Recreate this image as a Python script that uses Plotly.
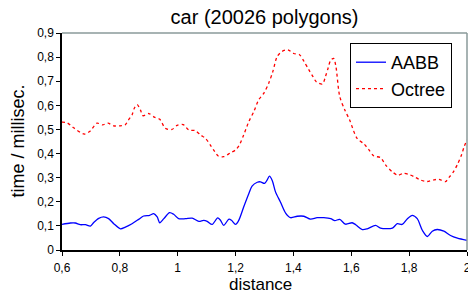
import plotly.graph_objects as go

# AABB series (distance, time)
aabb_x = [0.6, 0.629, 0.646, 0.663, 0.681, 0.698, 0.709, 0.727, 0.744, 0.761, 0.779, 0.802,
          0.819, 0.842, 0.865, 0.882, 0.903, 0.917, 0.929, 0.938, 0.952, 0.972, 0.986, 1.003,
          1.027, 1.05, 1.073, 1.09, 1.102, 1.119, 1.138, 1.148, 1.159, 1.177, 1.186, 1.20,
          1.211, 1.228, 1.246, 1.257, 1.275, 1.286, 1.30, 1.309, 1.317, 1.327, 1.338, 1.355,
          1.373, 1.39, 1.413, 1.436, 1.459, 1.482, 1.505, 1.529, 1.543, 1.56, 1.58, 1.603,
          1.615, 1.638, 1.655, 1.684, 1.701, 1.742, 1.759, 1.776, 1.794, 1.811, 1.828, 1.846,
          1.863, 1.88, 1.897, 1.92, 1.943, 1.967, 2.0]
aabb_y = [0.106, 0.112, 0.112, 0.105, 0.105, 0.099, 0.113, 0.131, 0.137, 0.13, 0.109, 0.088,
          0.095, 0.109, 0.127, 0.141, 0.144, 0.151, 0.137, 0.113, 0.13, 0.155, 0.148, 0.13,
          0.13, 0.132, 0.119, 0.123, 0.119, 0.106, 0.133, 0.123, 0.102, 0.128, 0.123, 0.106,
          0.123, 0.178, 0.234, 0.265, 0.281, 0.283, 0.276, 0.29, 0.306, 0.287, 0.241, 0.199,
          0.153, 0.134, 0.14, 0.14, 0.128, 0.134, 0.134, 0.13, 0.122, 0.127, 0.107, 0.113,
          0.105, 0.085, 0.088, 0.102, 0.091, 0.091, 0.109, 0.106, 0.13, 0.144, 0.13, 0.081,
          0.056, 0.078, 0.085, 0.078, 0.06, 0.049, 0.04]

# Octree series (distance, time)
octree_x = [0.6, 0.617, 0.64, 0.677, 0.698, 0.721, 0.74, 0.759, 0.779, 0.80, 0.819, 0.83,
            0.842, 0.85, 0.86, 0.871, 0.88, 0.90, 0.919, 0.938, 0.957, 0.98, 0.998, 1.019,
            1.038, 1.061, 1.079, 1.096, 1.113, 1.127, 1.14, 1.159, 1.182, 1.20, 1.213, 1.228,
            1.246, 1.263, 1.28, 1.298, 1.315, 1.329, 1.344, 1.361, 1.381, 1.401, 1.421, 1.436,
            1.453, 1.467, 1.479, 1.50, 1.511, 1.52, 1.528, 1.539, 1.547, 1.56, 1.578, 1.594,
            1.62, 1.644, 1.661, 1.678, 1.701, 1.719, 1.742, 1.761, 1.78, 1.80, 1.822, 1.84,
            1.863, 1.886, 1.903, 1.926, 1.938, 1.953, 1.967, 1.981, 1.99, 2.0]
octree_y = [0.53, 0.528, 0.507, 0.481, 0.494, 0.526, 0.519, 0.526, 0.515, 0.515, 0.52, 0.54,
            0.56, 0.588, 0.603, 0.581, 0.557, 0.566, 0.551, 0.542, 0.505, 0.50, 0.517, 0.52,
            0.498, 0.495, 0.477, 0.463, 0.435, 0.41, 0.39, 0.387, 0.403, 0.415, 0.435, 0.477,
            0.533, 0.574, 0.623, 0.651, 0.693, 0.741, 0.803, 0.824, 0.83, 0.815, 0.81, 0.783,
            0.748, 0.72, 0.698, 0.688, 0.72, 0.755, 0.785, 0.795, 0.76, 0.637, 0.58, 0.54,
            0.463, 0.44, 0.415, 0.39, 0.383, 0.352, 0.324, 0.31, 0.318, 0.313, 0.301, 0.29,
            0.284, 0.291, 0.293, 0.284, 0.301, 0.324, 0.355, 0.394, 0.428, 0.456]

x_ticks = [0.6, 0.8, 1.0, 1.2, 1.4, 1.6, 1.8, 2.0]
y_ticks = [0, 0.1, 0.2, 0.3, 0.4, 0.5, 0.6, 0.7, 0.8, 0.9]

font = "Liberation Sans, Arial, sans-serif"

fig = go.Figure()
fig.add_trace(go.Scatter(x=aabb_x, y=aabb_y, mode="lines", name="AABB",
                         line=dict(color="#0000ff", width=1.3, shape="spline", smoothing=0.8)))
fig.add_trace(go.Scatter(x=octree_x, y=octree_y, mode="lines", name="Octree",
                         line=dict(color="#ff0000", width=1.3, dash="dot", shape="spline", smoothing=0.8)))

fig.update_layout(
    width=468, height=293,
    margin=dict(l=62, r=1, t=33, b=43, autoexpand=False),
    paper_bgcolor="white", plot_bgcolor="white",
    separators=",.",
    font=dict(family=font, color="black"),
    title=dict(text="car (20026 polygons)", x=0.5, xref="paper", xanchor="center",
               y=1 - 17 / 293, yref="container", yanchor="middle",
               font=dict(size=20, color="black", family=font)),
    showlegend=True,
    legend=dict(x=(350 - 62) / 405, y=(250 - 43) / 217, xanchor="left", yanchor="top",
                bgcolor="white", bordercolor="black", borderwidth=1,
                font=dict(size=18, family=font), tracegroupgap=0),
    xaxis=dict(range=[0.6, 2.0], tickvals=x_ticks, showgrid=False, zeroline=False,
               automargin=False, showline=True, linecolor="black", linewidth=1.5,
               ticks="outside", ticklen=4, tickcolor="black", ticklabelstandoff=2,
               ticklabeloverflow="allow", tickfont=dict(size=12)),
    yaxis=dict(range=[0, 0.9], tickvals=y_ticks, showgrid=False, zeroline=False,
               automargin=False, showline=True, linecolor="black", linewidth=1.5,
               ticks="outside", ticklen=4, tickcolor="black",
               ticklabeloverflow="allow", tickfont=dict(size=12)),
    annotations=[
        dict(text="distance", xref="paper", yref="paper", x=0.49, y=-0.158,
             xanchor="center", yanchor="middle", showarrow=False, font=dict(size=17)),
        dict(text="time / millisec.", xref="paper", yref="paper", x=-0.111, y=0.5,
             xanchor="center", yanchor="middle", textangle=-90, showarrow=False,
             font=dict(size=18)),
    ],
    shapes=[
        dict(type="line", xref="paper", yref="paper", x0=0, x1=1, y0=1, y1=1,
             line=dict(color="#8a9a9a", width=1.5)),
        dict(type="line", xref="paper", yref="paper", x0=1, x1=1, y0=0, y1=1,
             line=dict(color="#8a9a9a", width=1.5)),
    ],
)

fig.write_html("out.html", config={"displayModeBar": False},
               post_script="document.body.style.margin='0px';document.body.style.padding='0px';")
